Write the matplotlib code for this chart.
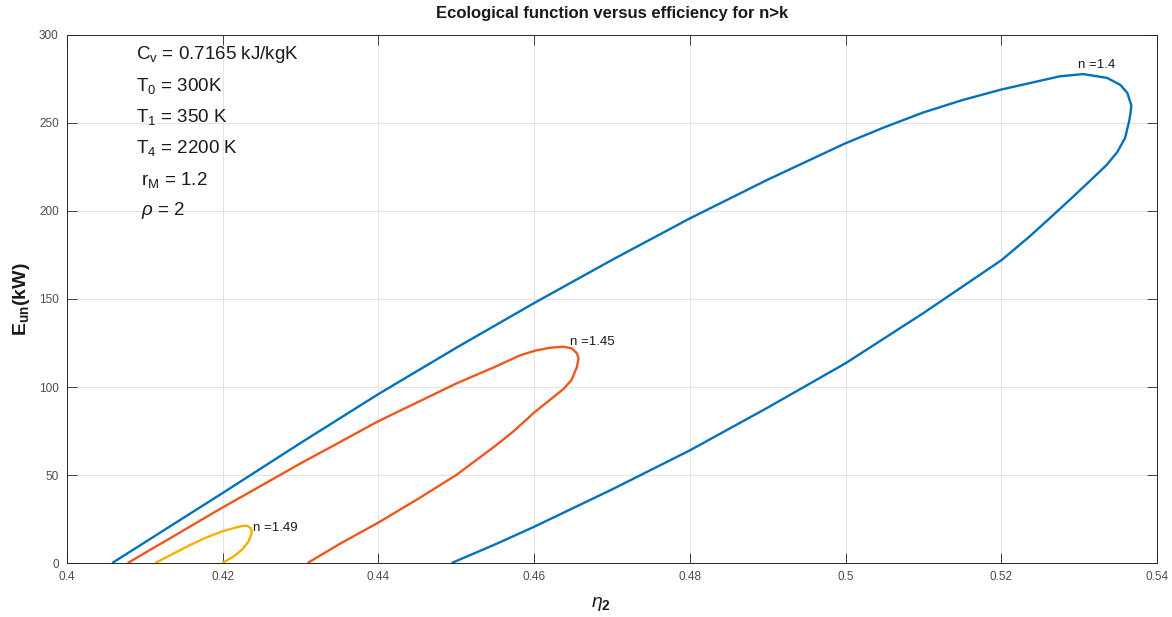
import matplotlib
matplotlib.use('Agg')
import matplotlib.pyplot as plt

plt.rcParams['font.family'] = ['Liberation Sans', 'DejaVu Sans']
plt.rcParams['mathtext.fontset'] = 'custom'
plt.rcParams['mathtext.rm'] = 'Liberation Sans'
plt.rcParams['mathtext.it'] = 'Liberation Sans:italic'
plt.rcParams['mathtext.bf'] = 'Liberation Sans:bold'
plt.rcParams['mathtext.default'] = 'regular'

# n = 1.4 loop (upper branch -> right tip -> lower branch)
eta_14 = [0.4058, 0.42, 0.43, 0.44, 0.45, 0.46, 0.47, 0.48, 0.49, 0.50, 0.505, 0.51,
          0.515, 0.52, 0.525, 0.5275, 0.5305, 0.5336, 0.5353, 0.5362, 0.5367, 0.5366,
          0.5364, 0.5359, 0.5349, 0.5335, 0.5316, 0.5292, 0.5265, 0.5235, 0.52, 0.51,
          0.50, 0.49, 0.48, 0.47, 0.46, 0.455, 0.4494]
e_14 = [0, 39.8, 68.2, 96, 122.3, 147.7, 172.2, 195.8, 217.8, 238.5, 247.6, 256,
        263, 269, 274, 276.5, 277.8, 275.6, 271.6, 267, 260, 255.5,
        250.6, 241.5, 233.5, 226, 218, 208, 197, 185, 172, 142,
        113.5, 88.3, 64, 41.8, 20.6, 10.6, 0]

# n = 1.45 loop
eta_145 = [0.4078, 0.42, 0.43, 0.44, 0.45, 0.455, 0.4582, 0.4601, 0.4620, 0.4637,
           0.4648, 0.4655, 0.4657, 0.4655, 0.4648, 0.4638, 0.4624, 0.46, 0.4574,
           0.455, 0.45, 0.445, 0.44, 0.435, 0.4309]
e_145 = [0, 31.6, 56.6, 80.6, 102, 111.5, 118, 120.6, 122.3, 122.9,
         122, 119.1, 116.3, 111.5, 104, 99, 94, 85.5, 75,
         66.5, 50, 36.2, 23, 10.8, 0]

# n = 1.49 loop
eta_149 = [0.4113, 0.41365, 0.4158, 0.41794, 0.42008, 0.4218, 0.4225, 0.42308, 0.42363,
           0.42372, 0.42329, 0.42244, 0.42136, 0.41995]
e_149 = [0, 5.3, 10.2, 14.6, 18.2, 20.3, 21.0, 21.2, 19.7,
         16.9, 12.1, 7.4, 3.6, 0]

loop_labels = ['n =1.4', 'n =1.45', 'n =1.49']
label_pos = [(0.5298, 283), (0.4646, 125.6), (0.4239, 19.7)]
colors = ['#0072BD', '#F0561D', '#F5B000']

params = [
    ('C$_v$ = 0.7165 kJ/kgK', 0.4089, 289),
    ('T$_0$ = 300K', 0.4089, 271),
    ('T$_1$ = 350 K', 0.4089, 253.6),
    ('T$_4$ = 2200 K', 0.4089, 235.8),
    (' r$_M$ = 1.2', 0.4089, 217.6),
    (r' $\mathit{\rho}$ = 2', 0.4089, 200.2),
]

fig = plt.figure(figsize=(11.72, 6.17), dpi=100, facecolor='white')
ax = fig.add_axes([0.0572, 0.0875, 0.93, 0.8558])

for x, y, c in zip([eta_14, eta_145, eta_149], [e_14, e_145, e_149], colors):
    ax.plot(x, y, color=c, linewidth=1.7, solid_joinstyle='round', solid_capstyle='butt')

for lab, (x, y) in zip(loop_labels, label_pos):
    ax.text(x, y, lab, fontsize=9.5, va='center', ha='left', color='#1a1a1a')

for s, x, y in params:
    ax.text(x, y, s, fontsize=13.5, va='center', ha='left', color='#1a1a1a')

ax.set_xlim(0.4, 0.54)
ax.set_ylim(0, 300)
ax.set_xticks([0.4, 0.42, 0.44, 0.46, 0.48, 0.5, 0.52, 0.54])
ax.set_xticklabels(['0.4', '0.42', '0.44', '0.46', '0.48', '0.5', '0.52', '0.54'])
ax.set_yticks(range(0, 301, 50))

ax.grid(True, color='#e3e3e3', linewidth=0.7)
ax.set_axisbelow(True)
for sp in ax.spines.values():
    sp.set_color('#262626')
    sp.set_linewidth(0.7)
ax.tick_params(direction='in', length=7.5, width=0.6, color='#262626',
               labelsize=8.5, labelcolor='#4d4d4d', top=True, right=True, pad=6)

ax.set_title('Ecological function versus efficiency for n>k', fontsize=12,
             fontweight='bold', color='#1a1a1a', pad=12.5)
ax.set_xlabel(r'$\mathit{\eta}_\mathbf{2}$', fontsize=14, color='#1a1a1a')
ax.xaxis.set_label_coords(0.49, -0.06)
ax.set_ylabel(r'$\mathbf{E_{un}}$(kW)', fontsize=14, fontweight='bold', color='#1a1a1a')
ax.yaxis.set_label_coords(-0.032, 0.5)

fig.savefig('out.png', dpi=100, facecolor='white')
